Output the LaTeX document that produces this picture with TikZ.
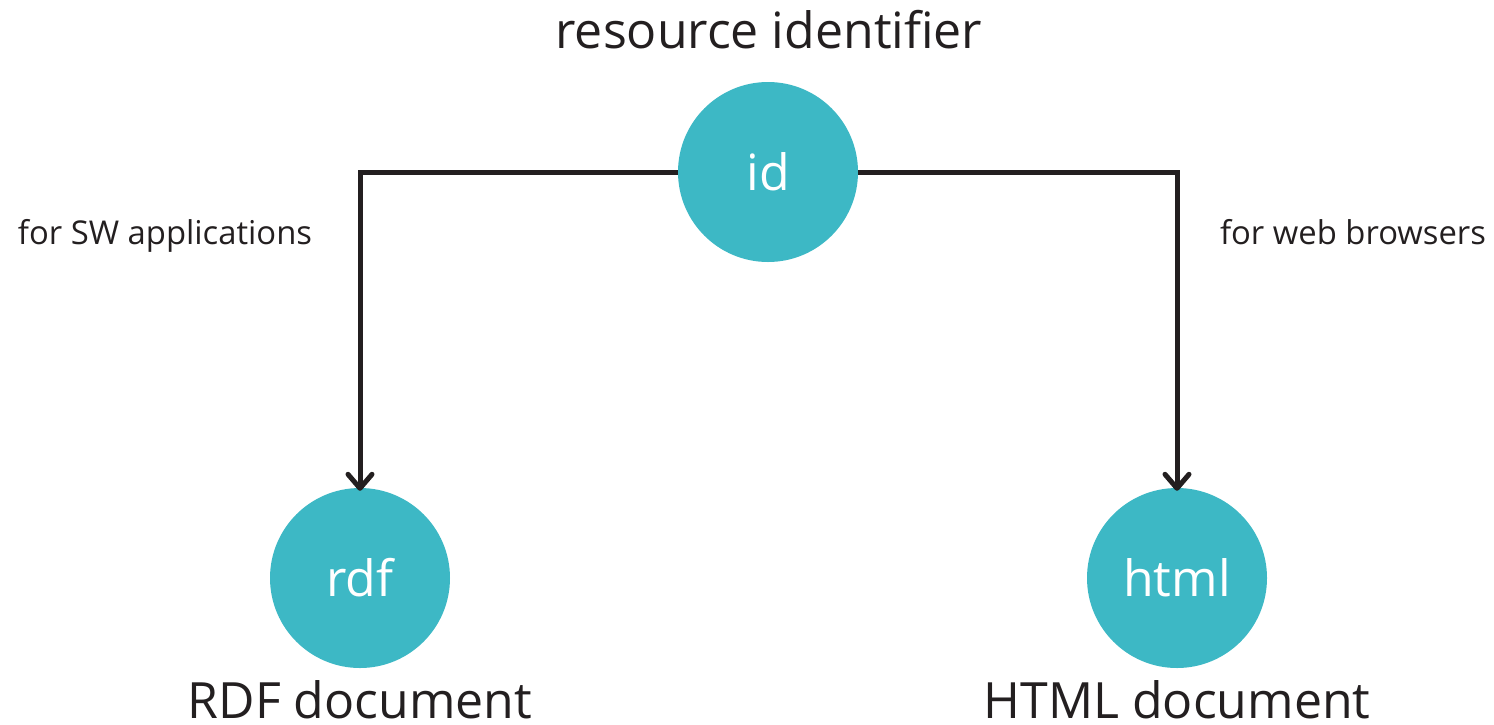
\documentclass[tikz,border=0pt]{standalone}
\usepackage{fontspec}
\setmainfont{Open Sans}
\usetikzlibrary{arrows.meta}
\definecolor{teal1}{HTML}{3DB8C5}
\definecolor{ink}{HTML}{231F20}
\tikzset{
  bubble/.style={circle, fill=teal1, minimum size=180pt, inner sep=0pt, text=white, font=\fontsize{50}{56}\selectfont},
  caption/.style={text=ink, anchor=base, inner sep=0pt, font=\fontsize{50}{56}\selectfont},
  side/.style={text=ink, anchor=base, inner sep=0pt, font=\fontsize{32.8}{38}\selectfont},
  link/.style={draw=ink, line width=5pt, -{Straight Barb[length=14pt,width=24pt,line width=5pt, round]}}
}
\begin{document}
\begin{tikzpicture}[x=1pt,y=-1pt]
\useasboundingbox (0,0) rectangle (1494,724);
\node[bubble] (id) at (768,172) {id};
\node[bubble] (rdf) at (360,578) {rdf};
\node[bubble] (html) at (1177,578) {html};
\node[caption] (title) at (769,48) {resource identifier};
\node[caption] (rdfcap) at (360,718) {RDF document};
\node[caption] (htmlcap) at (1177,718) {HTML document};
\node[side] (sw) at (165,244) {for SW applications};
\node[side] (web) at (1353,244) {for web browsers};
\draw[link] (id.west) -| ([yshift=-3pt]rdf.north);
\draw[link] (id.east) -| ([yshift=-3pt]html.north);
\end{tikzpicture}
\end{document}
